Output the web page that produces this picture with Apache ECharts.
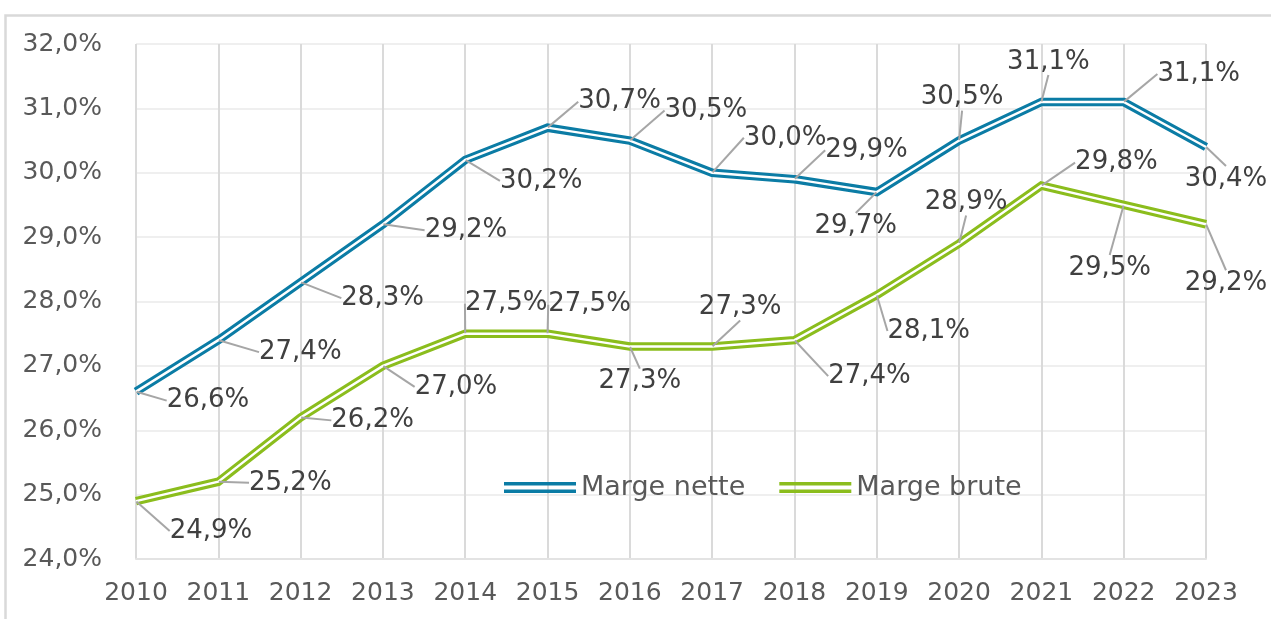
<!DOCTYPE html>
<html>
<head>
<meta charset="utf-8">
<script src="https://cdn.jsdelivr.net/npm/echarts@6/dist/echarts.min.js"></script>
<style>
  html, body { margin: 0; padding: 0; background: #fff; }
  #chart { width: 1271px; height: 619px; }
</style>
</head>
<body>
<div id="chart"></div>
<script>
// données
const years = ['2010', '2011', '2012', '2013', '2014', '2015', '2016', '2017', '2018', '2019', '2020', '2021', '2022', '2023']
const margeNette = [26.6, 27.4, 28.3, 29.2, 30.2, 30.7, 30.5, 30.0, 29.9, 29.7, 30.5, 31.1, 31.1, 30.4]
const margeBrute = [24.9, 25.2, 26.2, 27.0, 27.5, 27.5, 27.3, 27.3, 27.4, 28.1, 28.9, 29.8, 29.5, 29.2]
const yTicks = [24, 25, 26, 27, 28, 29, 30, 31, 32]

// décalage des étiquettes (px) par rapport au point
const offsetNette = [[72, 9], [82, 12], [82, 16], [83, 6], [76, 21], [72, -26], [76, -30], [73, -35], [72, -29], [-21, 34], [3, -43], [7, -40], [75, -28], [20, 32]]
const offsetBrute = [[75, 30], [72, 1], [72, 3], [73, 21], [41, -30], [42, -29], [10, 35], [28, -39], [75, 36], [52, 36], [7, -41], [75, -23], [-14, 63], [20, 59]]

const BLEU = '#0b7ca5'
const VERT = '#8bbd1d'
const fmt = v => v.toFixed(1).replace('.', ',') + '%'

const chart = echarts.init(document.getElementById('chart'))

const baseSeries = (name, data, color) => ({
  name: name,
  type: 'line',
  data: data,
  z: 2,
  symbol: 'none',
  lineStyle: {width: 8.5, color: color, join: 'miter'},
  itemStyle: {color: color},
  emphasis: {disabled: true},
  silent: true
})

const innerSeries = (name, data) => ({
  name: name,
  type: 'line',
  data: data,
  z: 3,
  symbol: 'circle',
  symbolSize: 1,
  showSymbol: true,
  lineStyle: {width: 2.4, color: '#ffffff', join: 'miter'},
  itemStyle: {color: 'rgba(0,0,0,0)'},
  label: {
    show: true,
    position: 'inside',
    formatter: p => fmt(p.value),
    fontFamily: 'DejaVu Sans',
    fontSize: 26,
    color: '#404040'
  },
  labelLine: {
    show: true,
    lineStyle: {color: '#a6a6a6', width: 2}
  },
  emphasis: {disabled: true},
  silent: true
})

const option = {
  animation: false,
  backgroundColor: '#fff',
  graphic: [{
    type: 'rect',
    left: 3, top: 13,
    shape: {width: 1400, height: 800},
    style: {fill: 'none', stroke: '#d9d9d9', lineWidth: 2.5},
    silent: true
  }],
  grid: {left: 136, right: 65, top: 44, bottom: 60},
  legend: {
    data: ['Marge nette', 'Marge brute'],
    left: 499,
    top: 469,
    itemWidth: 72,
    itemHeight: 11,
    itemGap: 34,
    icon: 'path://M0,0H72V3.6H0Z M0,7.4H72V11H0Z',
    textStyle: {fontFamily: 'DejaVu Sans', fontSize: 27, color: '#595959', padding: [0, 0, 0, 0]},
    selectedMode: false
  },
  xAxis: {
    type: 'category',
    data: years,
    boundaryGap: false,
    axisLine: {show: true, lineStyle: {color: '#e3e3e3', width: 2}},
    axisTick: {show: false},
    axisLabel: {interval: 0, fontFamily: 'DejaVu Sans', fontSize: 25, color: '#595959', margin: 22},
    splitLine: {show: true, interval: 0, lineStyle: {color: '#dadada', width: 2}}
  },
  yAxis: {
    type: 'value',
    min: yTicks[0],
    max: yTicks[yTicks.length - 1],
    interval: 1,
    axisLine: {show: false},
    axisTick: {show: false},
    axisLabel: {fontFamily: 'DejaVu Sans', fontSize: 25, color: '#595959', margin: 34, formatter: v => fmt(v)},
    splitLine: {lineStyle: {color: '#efefef', width: 2}}
  },
  series: [
    baseSeries('Marge nette', margeNette, BLEU),
    innerSeries('nette-int', margeNette),
    baseSeries('Marge brute', margeBrute, VERT),
    innerSeries('brute-int', margeBrute)
  ],
  labelLayout: function (params) {
    let off = null
    if (params.seriesIndex === 1) off = offsetNette[params.dataIndex]
    if (params.seriesIndex === 3) off = offsetBrute[params.dataIndex]
    if (!off) return {}
    return {dx: off[0], dy: off[1]}
  }
}

chart.setOption(option)
</script>
</body>
</html>
